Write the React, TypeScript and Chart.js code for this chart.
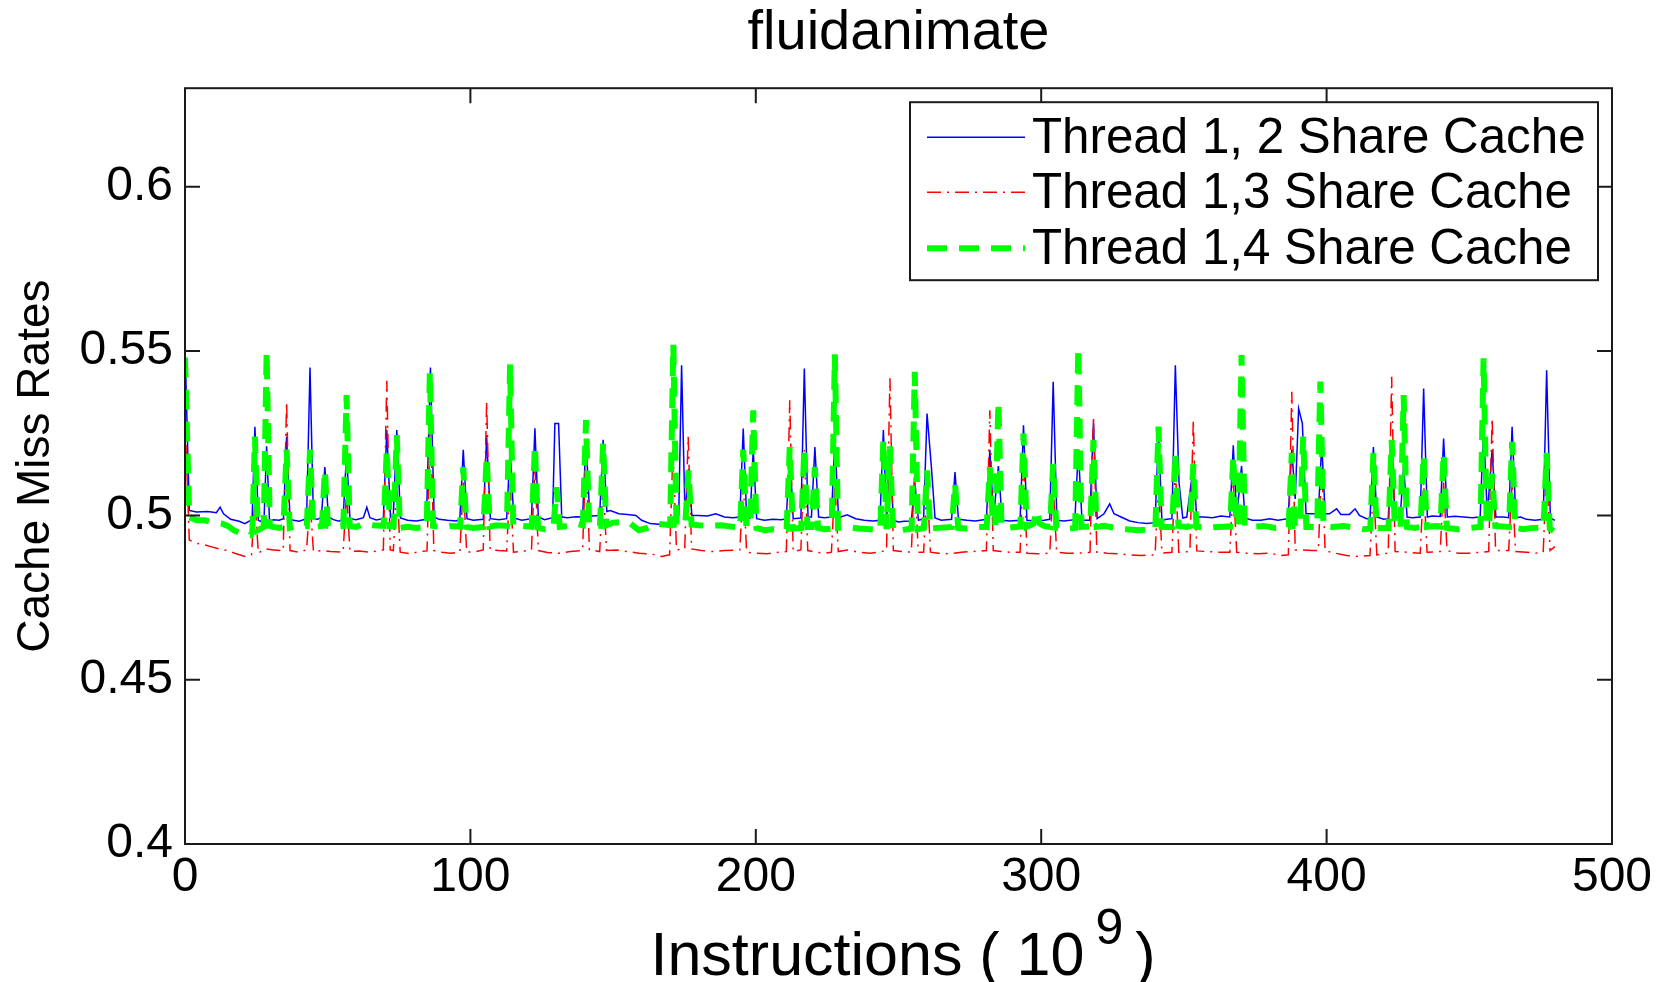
import React, { useEffect, useRef } from "react";
import { Chart, registerables } from "chart.js";

Chart.register(...registerables);

const TITLE = "fluidanimate";
const X_LABEL_MAIN = "Instructions ( 10";
const X_LABEL_SUP = "9";
const X_LABEL_END = " )";
const Y_LABEL = "Cache Miss Rates";
const X_TICKS = [0, 100, 200, 300, 400, 500];
const Y_TICKS = [0.4, 0.45, 0.5, 0.55, 0.6];
const SERIES_LABELS = [
  "Thread 1, 2 Share Cache",
  "Thread 1,3 Share Cache",
  "Thread 1,4 Share Cache",
];

const thread12: [number, number][] = [
  [0, 0.552], [1.5, 0.5015], [4, 0.501], [8, 0.5012], [11, 0.5008], [12.3, 0.5025], [13.5, 0.5005], [16, 0.4988], [19, 0.4982], [21, 0.4975], [23, 0.4985],
  [23.5, 0.4985], [24.5, 0.527], [25.7, 0.4985], [26.5, 0.4982], [27.7, 0.499], [28.6, 0.521], [29.6, 0.4985],
  [31, 0.4987], [33, 0.4985], [34.5, 0.499], [35.6, 0.524], [36.8, 0.499],
  [38, 0.4985], [40, 0.4982], [42.6, 0.499], [43.8, 0.545], [45, 0.499],
  [46.5, 0.4988], [47.8, 0.4995], [49, 0.5147], [50.3, 0.4995],
  [52, 0.4987], [54, 0.4982], [55.4, 0.499], [56.6, 0.519], [57.8, 0.499],
  [60, 0.4987], [62.5, 0.4993], [63.7, 0.5025], [64.8, 0.4993], [67, 0.4986], [69.5, 0.499], [70.7, 0.526], [72, 0.4995], [73, 0.5], [74.2, 0.526], [75.5, 0.4992],
  [78, 0.4985], [81, 0.4983], [84.6, 0.4988], [86, 0.545], [87.3, 0.4995], [89, 0.4988], [92, 0.4985], [95, 0.4983], [96.3, 0.4988], [97.5, 0.52], [98.8, 0.499],
  [101, 0.4985], [104.5, 0.4988], [105.7, 0.524], [107, 0.499], [110, 0.4987], [112.7, 0.499], [113.9, 0.52], [115.2, 0.4992], [118, 0.4985], [121.4, 0.499], [122.6, 0.5265], [123.8, 0.4995], [126, 0.4987], [128.8, 0.4993], [129.6, 0.528], [130.9, 0.528], [132, 0.4995],
  [134, 0.4993], [137, 0.4996], [139.3, 0.4995], [140.5, 0.523], [141.8, 0.5], [143, 0.4998], [145.3, 0.5], [146.5, 0.523], [147.8, 0.5012], [149, 0.5015], [152, 0.5005], [155, 0.5003], [158, 0.5], [160, 0.4985], [163, 0.4975], [166, 0.4973], [169, 0.4975], [170.5, 0.4985],
  [171.5, 0.5], [173, 0.5], [174, 0.5457], [175.2, 0.5], [176.4, 0.514], [177.6, 0.5],
  [180, 0.5], [183, 0.4998], [186, 0.5005], [189, 0.4995], [192, 0.4993], [194.4, 0.4995], [195.6, 0.5264], [196.8, 0.4993], [198, 0.4992], [199.1, 0.52], [200.3, 0.499],
  [203, 0.4985], [206, 0.4988], [209, 0.4987], [210.7, 0.499], [211.9, 0.52], [213.1, 0.499], [215.8, 0.4992], [217, 0.5447], [218.3, 0.4995], [219.5, 0.4995], [220.7, 0.5208], [222, 0.4995],
  [224, 0.4993], [226.5, 0.4995], [227.7, 0.523], [229, 0.4993], [232, 0.5002], [235, 0.499], [238, 0.4985], [241, 0.4983], [243.5, 0.4985], [244.7, 0.526], [245.8, 0.4995], [247, 0.52], [248.2, 0.4985],
  [250, 0.498], [252, 0.4982], [254.5, 0.4983], [255.7, 0.51], [257, 0.4985], [258.8, 0.499], [260, 0.531], [261.5, 0.515], [262.8, 0.4992],
  [265, 0.4985], [268.6, 0.4988], [269.8, 0.5132], [271, 0.4988], [274, 0.4985], [277, 0.4983], [280.8, 0.4988], [282, 0.52], [283.3, 0.4993], [285, 0.515], [286.3, 0.4985],
  [289, 0.4983], [292.6, 0.4985], [293.8, 0.5274], [295, 0.4985], [298, 0.4983], [301, 0.4985], [303, 0.4988], [304.2, 0.5407], [305.5, 0.4985],
  [308, 0.4983], [311.8, 0.4987], [313, 0.52], [314.3, 0.4985], [317, 0.4985], [318.3, 0.528], [319.6, 0.499], [322, 0.5005], [324, 0.5035], [325.5, 0.5005], [328, 0.4995], [331, 0.4983], [334, 0.4978], [337, 0.4975], [339.9, 0.4978], [341.1, 0.525], [342.3, 0.4985], [344, 0.4988], [345.8, 0.499], [347, 0.5457], [348.3, 0.51], [349.6, 0.4992],
  [351, 0.4995], [353.3, 0.515], [354.5, 0.4995], [357, 0.4995], [360, 0.4993], [363, 0.4998], [366.1, 0.4995], [367.3, 0.5213], [368.5, 0.4995], [370.2, 0.515], [371.4, 0.4992],
  [374, 0.4985], [377, 0.4985], [380, 0.499], [383, 0.4985], [386.5, 0.499], [387.8, 0.52], [389, 0.505], [390.2, 0.5325], [391.5, 0.528], [392.8, 0.5005],
  [395, 0.5005], [397.1, 0.5005], [398.3, 0.5218], [399.5, 0.5005], [401, 0.5005], [403.5, 0.502], [405, 0.5003], [408, 0.5003], [410, 0.502], [411.5, 0.5], [414, 0.499], [415.2, 0.499], [416.4, 0.5208], [417.6, 0.4995], [420, 0.4988], [421.6, 0.499], [422.8, 0.52], [424, 0.4995], [425.8, 0.4995], [427, 0.515], [428.2, 0.4995],
  [430, 0.4993], [432.8, 0.4995], [434, 0.5386], [435.3, 0.4995], [437, 0.4998], [439.8, 0.4997], [441, 0.5234], [442.3, 0.4995], [445, 0.4997], [448, 0.4995], [451, 0.4993], [453.8, 0.4995], [455, 0.527], [456.3, 0.5], [458, 0.52], [459.3, 0.4995], [462, 0.4995], [463.8, 0.4993], [465, 0.527], [466.3, 0.4993],
  [468, 0.4995], [470, 0.4988], [473, 0.4985], [475.9, 0.4988], [477.1, 0.5442], [478.4, 0.4992], [480, 0.4985],
];

const thread13: [number, number][] = [
  [0, 0.53], [1.5, 0.4925], [4, 0.4915], [7, 0.491], [9, 0.4905], [12, 0.4898], [15, 0.4893], [18, 0.4883], [21, 0.4875], [23.3, 0.488], [24.5, 0.505], [25.7, 0.4885],
  [28, 0.4898], [31, 0.4895], [34.4, 0.4892], [35.6, 0.5345], [36.8, 0.4893], [40, 0.4888], [42.6, 0.4895], [43.8, 0.505], [45, 0.489],
  [48, 0.4893], [51, 0.489], [55.4, 0.4888], [56.6, 0.507], [57.8, 0.489], [61, 0.4892], [65, 0.4888], [69.5, 0.4895], [70.7, 0.541], [71.9, 0.4895], [73, 0.4893], [74.2, 0.51], [75.4, 0.4888],
  [79, 0.4883], [82, 0.489], [84.8, 0.4892], [86, 0.53], [87.2, 0.4893], [90, 0.4888], [93, 0.4885], [96.3, 0.4888], [97.5, 0.51], [98.7, 0.4888], [102, 0.489], [104.5, 0.4895], [105.7, 0.5345], [106.9, 0.4895],
  [110, 0.4893], [112.7, 0.4892], [113.9, 0.51], [115.1, 0.4888], [118, 0.489], [121.4, 0.4895], [122.6, 0.515], [123.8, 0.4893], [127, 0.4887], [131, 0.4885], [135, 0.489], [139.3, 0.4893], [140.5, 0.52], [141.7, 0.4895], [145.3, 0.489], [146.5, 0.51], [147.7, 0.4893],
  [151, 0.4895], [155, 0.489], [159, 0.4885], [163, 0.4883], [167, 0.4875], [169.8, 0.488], [171, 0.52], [172.2, 0.4895], [175.1, 0.4898], [176.3, 0.524], [177.5, 0.4898],
  [181, 0.4893], [185, 0.489], [189, 0.4893], [194.4, 0.4895], [195.6, 0.51], [196.8, 0.4888], [200, 0.4885], [204, 0.4883], [208, 0.4888], [210.7, 0.489], [211.9, 0.535], [213.1, 0.489], [215.8, 0.4895], [217, 0.52], [218.2, 0.4893],
  [221, 0.4888], [224, 0.4885], [226.5, 0.4888], [227.7, 0.51], [228.9, 0.489], [232, 0.4895], [236, 0.4888], [240, 0.4885], [243, 0.4888], [245.8, 0.4893], [247, 0.5417], [248.2, 0.4893], [251, 0.489], [254.5, 0.4888], [255.7, 0.515], [256.9, 0.4888], [258.8, 0.4888], [260, 0.51], [261.2, 0.4888],
  [264, 0.4885], [268, 0.4883], [272, 0.4888], [276, 0.489], [280.8, 0.4893], [282, 0.532], [283.2, 0.4893], [286, 0.489], [289, 0.4888], [292.6, 0.4888], [293.8, 0.518], [295, 0.4885], [299, 0.4883], [303, 0.4885], [304.2, 0.51], [305.4, 0.4888],
  [309, 0.4885], [313, 0.4885], [317.1, 0.4888], [318.3, 0.53], [319.5, 0.4888], [323, 0.4885], [327, 0.4883], [331, 0.488], [335, 0.4878], [339.9, 0.488], [341.1, 0.51], [342.3, 0.4885], [345.8, 0.4888], [347, 0.515], [348.2, 0.4888], [352.1, 0.489], [353.3, 0.529], [354.5, 0.4892],
  [358, 0.489], [362, 0.4888], [366.1, 0.4888], [367.3, 0.51], [368.5, 0.4888], [372, 0.4885], [376, 0.4883], [380, 0.4885], [384, 0.4878], [386.6, 0.488], [387.8, 0.5376], [389, 0.4895], [392, 0.4895], [395, 0.4893], [397.1, 0.4893], [398.3, 0.515], [399.5, 0.4892],
  [403, 0.4885], [407, 0.4878], [411, 0.4875], [415.2, 0.4878], [416.4, 0.51], [417.6, 0.488], [421.6, 0.4885], [422.8, 0.5422], [424, 0.489], [428, 0.4888], [432.8, 0.4885], [434, 0.51], [435.2, 0.4888], [439.8, 0.489], [441, 0.51], [442.2, 0.4893],
  [446, 0.4885], [450, 0.4885], [454, 0.4888], [456.8, 0.489], [458, 0.5295], [459.2, 0.4893], [463.8, 0.4893], [465, 0.51], [466.2, 0.489], [470, 0.4888], [473, 0.4885], [475.9, 0.4888], [477.1, 0.515], [478.3, 0.4893], [480, 0.4905],
];

const thread14: [number, number][] = [
  [0, 0.548], [1.5, 0.4995], [4, 0.4985], [7, 0.4985], [9, 0.498], [11, 0.4978], [13, 0.4975], [15, 0.4968], [17, 0.4955], [19, 0.4948], [21, 0.4943], [23, 0.494], [23.6, 0.495], [24.5, 0.524], [25.5, 0.4955],
  [26.5, 0.496], [27.6, 0.4965], [28.6, 0.55], [29.7, 0.4968],
  [31, 0.4965], [33, 0.4962], [34.5, 0.4965], [35.6, 0.52], [36.7, 0.4962], [39, 0.4968], [42.7, 0.4968], [43.8, 0.52], [44.9, 0.4965], [48, 0.4968], [49, 0.5137], [50.1, 0.4968],
  [52, 0.4965], [55.5, 0.4968], [56.6, 0.5366], [57.7, 0.4968], [60, 0.4965], [63, 0.4975], [66, 0.497], [69.6, 0.4968], [70.7, 0.52], [71.8, 0.4968], [73.1, 0.4968], [74.2, 0.5244], [75.3, 0.4962],
  [78, 0.4965], [81, 0.4962], [84.7, 0.4965], [85.8, 0.5437], [86.9, 0.4968], [90, 0.4965], [93, 0.4968], [96.4, 0.4966], [97.5, 0.5147], [98.6, 0.4965], [101, 0.4962], [104.6, 0.4965], [105.7, 0.518], [106.8, 0.4966],
  [109, 0.497], [112.8, 0.4968], [113.9, 0.546], [115, 0.4966], [118, 0.4968], [121.5, 0.4966], [122.6, 0.5213], [123.7, 0.4962], [126, 0.4958], [129.1, 0.4962], [130.2, 0.5086], [131.3, 0.4965],
  [134, 0.4968], [137, 0.4975], [139.4, 0.497], [140.5, 0.529], [141.6, 0.497], [145.4, 0.4968], [146.5, 0.522], [147.6, 0.497],
  [150, 0.4978], [153, 0.498], [156, 0.4975], [159, 0.4955], [162, 0.4962], [165, 0.4975], [168, 0.4972], [170, 0.497], [171.1, 0.552], [172.2, 0.4972], [175.3, 0.4975], [176.4, 0.5137], [177.5, 0.4972],
  [180, 0.497], [184, 0.4968], [188, 0.497], [192, 0.4965], [194.5, 0.4962], [195.6, 0.52], [196.7, 0.4965], [198, 0.4968], [199.1, 0.532], [200.2, 0.4962],
  [203, 0.4955], [206, 0.4958], [209, 0.4955], [210.8, 0.4958], [211.9, 0.5208], [213, 0.496], [215.9, 0.4962], [217, 0.5203], [218.1, 0.4965], [219.6, 0.4965], [220.7, 0.5147], [221.8, 0.4962],
  [224, 0.4958], [226.6, 0.496], [227.7, 0.549], [228.8, 0.4962], [232, 0.4965], [236, 0.496], [240, 0.4958], [243.6, 0.4955], [244.7, 0.523], [245.8, 0.4958], [247, 0.521], [248.1, 0.4955],
  [250, 0.4952], [253, 0.4958], [254.6, 0.496], [255.7, 0.5437], [256.8, 0.4958], [258.9, 0.4962], [260, 0.5137], [261.1, 0.496],
  [264, 0.4962], [268.7, 0.4965], [269.8, 0.5097], [270.9, 0.4962], [274, 0.496], [278, 0.4965], [280.9, 0.4965], [282, 0.5147], [283.1, 0.497], [283.9, 0.497], [285, 0.5345], [286.1, 0.4968],
  [289, 0.4963], [292.7, 0.4966], [293.8, 0.525], [294.9, 0.4965], [297.3, 0.4975], [298.4, 0.5015], [299.5, 0.4975], [301, 0.4968], [303.1, 0.4965], [304.2, 0.5157], [305.3, 0.4962],
  [308, 0.4958], [311.9, 0.4962], [313, 0.551], [314.1, 0.4965], [317.2, 0.4966], [318.3, 0.523], [319.4, 0.4965], [322, 0.4968], [326, 0.4962], [330, 0.4958], [334, 0.4955], [338, 0.4957], [340, 0.496], [341.1, 0.527], [342.2, 0.4965], [345.9, 0.4965], [347, 0.519], [348.1, 0.4968],
  [351, 0.4965], [352.2, 0.4968], [353.3, 0.5157], [354.4, 0.4966], [358, 0.4962], [362, 0.4965], [366.2, 0.4966], [367.3, 0.518], [368.4, 0.4968], [369.1, 0.497], [370.2, 0.5488], [371.3, 0.4968],
  [374, 0.4965], [378, 0.4968], [382, 0.4962], [386.7, 0.4965], [387.8, 0.519], [388.9, 0.4968], [390.7, 0.4968], [391.8, 0.524], [392.9, 0.4965], [396.7, 0.4965], [397.8, 0.5407], [398.9, 0.4968],
  [402, 0.4965], [406, 0.4968], [410, 0.4962], [413, 0.4958], [415.3, 0.496], [416.4, 0.519], [417.5, 0.4962], [421.7, 0.4962], [422.8, 0.523], [423.9, 0.4965], [425.9, 0.4965], [427, 0.5366], [428.1, 0.4965],
  [431, 0.4962], [432.9, 0.4965], [434, 0.5183], [435.1, 0.4965], [438, 0.4968], [439.9, 0.4966], [441, 0.519], [442.1, 0.4962], [446, 0.4958], [450, 0.4962], [453.9, 0.4965], [455, 0.5478], [456.1, 0.4968], [456.9, 0.497], [458, 0.5127], [459.1, 0.4968], [463.9, 0.4965], [465, 0.5224], [466.1, 0.4962],
  [469, 0.4958], [472, 0.4962], [476, 0.4963], [477.1, 0.519], [478.2, 0.496], [480, 0.495],
];

const FONT = "'Liberation Sans', Arial, Helvetica, sans-serif";

const toPoints = (arr: [number, number][]) => arr.map(([x, y]) => ({ x, y }));

const matlabPlugin = {
  id: "matlabFrame",
  afterDraw(chart: any) {
    const { ctx, chartArea: a, scales } = chart;
    const xs = scales.x;
    const ys = scales.y;
    ctx.save();
    // frame
    ctx.strokeStyle = "#1a1a1a";
    ctx.lineWidth = 2;
    ctx.setLineDash([]);
    ctx.strokeRect(a.left, a.top, a.right - a.left, a.bottom - a.top);
    // inward ticks
    const TL = 15;
    ctx.beginPath();
    X_TICKS.forEach((v) => {
      const px = xs.getPixelForValue(v);
      ctx.moveTo(px, a.bottom);
      ctx.lineTo(px, a.bottom - TL);
      ctx.moveTo(px, a.top);
      ctx.lineTo(px, a.top + TL);
    });
    Y_TICKS.forEach((v) => {
      const py = ys.getPixelForValue(v);
      ctx.moveTo(a.left, py);
      ctx.lineTo(a.left + TL, py);
      ctx.moveTo(a.right, py);
      ctx.lineTo(a.right - TL, py);
    });
    ctx.stroke();

    // legend
    const boxRight = a.right - 14;
    const boxTop = a.top + 14;
    const boxW = 688;
    const boxH = 178;
    const boxLeft = boxRight - boxW;
    ctx.fillStyle = "#ffffff";
    ctx.fillRect(boxLeft, boxTop, boxW, boxH);
    ctx.strokeStyle = "#1a1a1a";
    ctx.lineWidth = 2;
    ctx.strokeRect(boxLeft, boxTop, boxW, boxH);
    const rowY = [35, 90, 146];
    chart.data.datasets.forEach((ds: any, i: number) => {
      const y = boxTop + rowY[i];
      ctx.save();
      ctx.strokeStyle = ds.borderColor;
      ctx.lineWidth = ds.borderWidth;
      ctx.setLineDash(ds.borderDash || []);
      ctx.beginPath();
      ctx.moveTo(boxLeft + 17, y);
      ctx.lineTo(boxLeft + 115, y);
      ctx.stroke();
      ctx.restore();
      ctx.fillStyle = "#000";
      ctx.font = `49.3px ${FONT}`;
      ctx.textAlign = "left";
      ctx.textBaseline = "middle";
      ctx.fillText(ds.label, boxLeft + 122, y + 2);
    });

    // x axis label with superscript
    const cx = (a.left + a.right) / 2;
    const baseY = 975;
    ctx.fillStyle = "#000";
    ctx.textBaseline = "alphabetic";
    ctx.textAlign = "left";
    ctx.font = `61px ${FONT}`;
    const w1 = ctx.measureText(X_LABEL_MAIN).width;
    ctx.font = `50px ${FONT}`;
    const w2 = ctx.measureText(X_LABEL_SUP).width;
    const x0 = cx - 248;
    const xSup = x0 + w1 + 11;
    const xEnd = xSup + w2 - 5;
    ctx.font = `61px ${FONT}`;
    ctx.fillText(X_LABEL_MAIN, x0, baseY);
    ctx.font = `50px ${FONT}`;
    ctx.fillText(X_LABEL_SUP, xSup, baseY - 31);
    ctx.font = `61px ${FONT}`;
    ctx.fillText(X_LABEL_END, xEnd, baseY);
    ctx.restore();
  },
};

export default function App() {
  const ref = useRef<HTMLCanvasElement>(null);
  useEffect(() => {
    document.body.style.margin = "0";
    const canvas = ref.current;
    if (!canvas) return;
    const chart = new Chart(canvas, {
      type: "line",
      data: {
        datasets: [
          {
            label: SERIES_LABELS[0],
            data: toPoints(thread12),
            borderColor: "#0000ff",
            borderWidth: 1.5,
            borderDash: [],
            pointRadius: 0,
            tension: 0,
            order: 3,
          },
          {
            label: SERIES_LABELS[1],
            data: toPoints(thread13),
            borderColor: "#ff0000",
            borderWidth: 1.5,
            borderDash: [14, 6, 2, 6],
            pointRadius: 0,
            tension: 0,
            order: 2,
          },
          {
            label: SERIES_LABELS[2],
            data: toPoints(thread14),
            borderColor: "#00ff00",
            borderWidth: 6,
            borderDash: [20, 12],
            pointRadius: 0,
            tension: 0,
            order: 1,
          },
        ],
      },
      options: {
        responsive: false,
        animation: false,
        devicePixelRatio: 1,
        layout: { padding: { left: 0, right: 53, top: 0, bottom: 0 } },
        font: { family: FONT },
        plugins: {
          legend: { display: false },
          tooltip: { enabled: false },
          title: {
            display: true,
            fullSize: false,
            text: TITLE,
            color: "#000",
            font: { family: FONT, size: 56, weight: "normal" },
            padding: { top: 0, bottom: 21 },
          },
        },
        scales: {
          x: {
            type: "linear",
            min: 0,
            max: 500,
            grid: { display: false, drawTicks: false },
            border: { display: false },
            afterBuildTicks: (scale: any) => {
              scale.ticks = X_TICKS.map((value) => ({ value }));
            },
            afterFit: (scale: any) => {
              scale.height = 138;
            },
            ticks: {
              autoSkip: false,
              maxRotation: 0,
              padding: 5,
              color: "#000",
              font: { family: FONT, size: 48 },
              callback: (v: any) => String(v),
            },
          },
          y: {
            type: "linear",
            min: 0.4,
            max: 0.63,
            grid: { display: false, drawTicks: false },
            border: { display: false },
            afterBuildTicks: (scale: any) => {
              scale.ticks = Y_TICKS.map((value) => ({ value }));
            },
            afterFit: (scale: any) => {
              scale.width = 185;
            },
            title: {
              display: true,
              text: Y_LABEL,
              color: "#000",
              font: { family: FONT, size: 46 },
              padding: { top: 9, bottom: 0 },
            },
            ticks: {
              autoSkip: false,
              padding: 12,
              color: "#000",
              font: { family: FONT, size: 48 },
              callback: (v: any) => String(v),
            },
          },
        },
      },
      plugins: [matlabPlugin],
    } as any);
    return () => chart.destroy();
  }, []);
  return (
    <div style={{ position: "absolute", left: 0, top: 0, width: 1665, height: 982, background: "#fff" }}>
      <canvas ref={ref} width={1665} height={982} style={{ width: 1665, height: 982, display: "block" }} />
    </div>
  );
}
